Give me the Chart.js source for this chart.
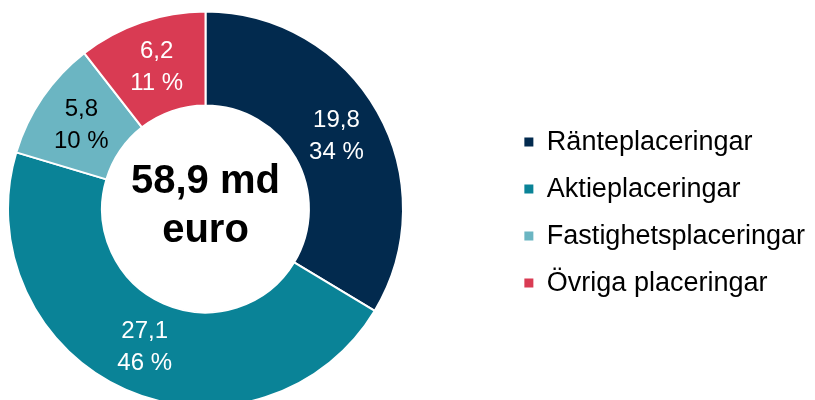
<!DOCTYPE html>
<html>
<head>
<meta charset="utf-8">
<script src="https://cdn.jsdelivr.net/npm/chart.js@4"></script>
<style>
    html, body { margin: 0; padding: 0; background: #fff; }
    #wrap { width: 815px; height: 400px; position: relative; }
</style>
</head>
<body>
<div id="wrap"><canvas id="graph"></canvas></div>
<script>
'use strict';

// data (md euro)
const categories = ['Ränteplaceringar', 'Aktieplaceringar', 'Fastighetsplaceringar', 'Övriga placeringar'];
const values = [19.8, 27.1, 5.8, 6.2];
const sliceColors = ['#022A4E', '#0A8397', '#6BB5C2', '#D93B53'];
const labelColors = ['#fff', '#fff', '#000', '#fff'];
const centerUnit = 'md';
const centerCurrency = 'euro';

const FONT = "'Liberation Sans', Arial, sans-serif";
const RING_CENTER_X = 205.5; // ring sits hard against the left edge
const total = values.reduce((a, b) => a + b, 0);
const fmt = (v) => v.toFixed(1).replace('.', ',');

// move the chart area so the ring is centred where the original has it
const shiftArea = {
    id: 'shiftArea',
    afterLayout(chart) {
        const ca = chart.chartArea;
        ca.left = 2 * RING_CENTER_X - ca.right;
        ca.width = ca.right - ca.left;
    }
};

// value + share printed inside each slice
const sliceLabels = {
    id: 'sliceLabels',
    afterDatasetsDraw(chart) {
        const { ctx } = chart;
        const meta = chart.getDatasetMeta(0);
        ctx.save();
        ctx.font = '24px ' + FONT;
        ctx.textAlign = 'center';
        ctx.textBaseline = 'middle';
        meta.data.forEach((arc, i) => {
            const p = arc.getProps(['x', 'y', 'startAngle', 'endAngle', 'innerRadius', 'outerRadius'], true);
            const mid = (p.startAngle + p.endAngle) / 2;
            const r = (p.innerRadius + p.outerRadius) / 2;
            const x = p.x + Math.cos(mid) * r;
            const y = p.y + Math.sin(mid) * r;
            const v = values[i];
            ctx.fillStyle = labelColors[i];
            ctx.fillText(fmt(v), x, y - 15);
            ctx.fillText(Math.round(v / total * 100) + ' %', x, y + 17);
        });
        ctx.restore();
    }
};

// total in the hole
const centerText = {
    id: 'centerText',
    afterDraw(chart) {
        const { ctx } = chart;
        const arc = chart.getDatasetMeta(0).data[0];
        if (!arc) return;
        ctx.save();
        ctx.font = 'bold 40px ' + FONT;
        ctx.fillStyle = '#000';
        ctx.textAlign = 'center';
        ctx.textBaseline = 'alphabetic';
        ctx.fillText(fmt(total) + ' ' + centerUnit, arc.x, arc.y - 16);
        ctx.fillText(centerCurrency, arc.x, arc.y + 33);
        ctx.restore();
    }
};

const chart = new Chart(document.getElementById('graph'), {
    type: 'doughnut',
    data: {
        labels: categories,
        datasets: [{
            data: values,
            backgroundColor: sliceColors,
            borderColor: '#fff',
            borderWidth: 2,
            radius: 197.5,
            cutout: 99.5,
            clip: false
        }]
    },
    options: {
        responsive: true,
        maintainAspectRatio: false,
        animation: false,
        layout: {
            padding: { left: 0, right: 0, top: 18, bottom: 0 }
        },
        plugins: {
            legend: {
                position: 'right',
                // empty title only nudges the items down a few px
                title: { display: true, text: '', font: { size: 1 }, padding: { top: 6, bottom: 0 } },
                labels: {
                    boxWidth: 9,
                    boxHeight: 9,
                    padding: 20,
                    color: '#000',
                    font: { family: FONT, size: 27 },
                    generateLabels(c) {
                        const items = Chart.overrides.doughnut.plugins.legend.labels.generateLabels(c);
                        return items.map(it => Object.assign(it, { lineWidth: 0, strokeStyle: it.fillStyle }));
                    }
                }
            },
            tooltip: { enabled: false }
        }
    },
    plugins: [shiftArea, sliceLabels, centerText]
});
</script>
</body>
</html>
